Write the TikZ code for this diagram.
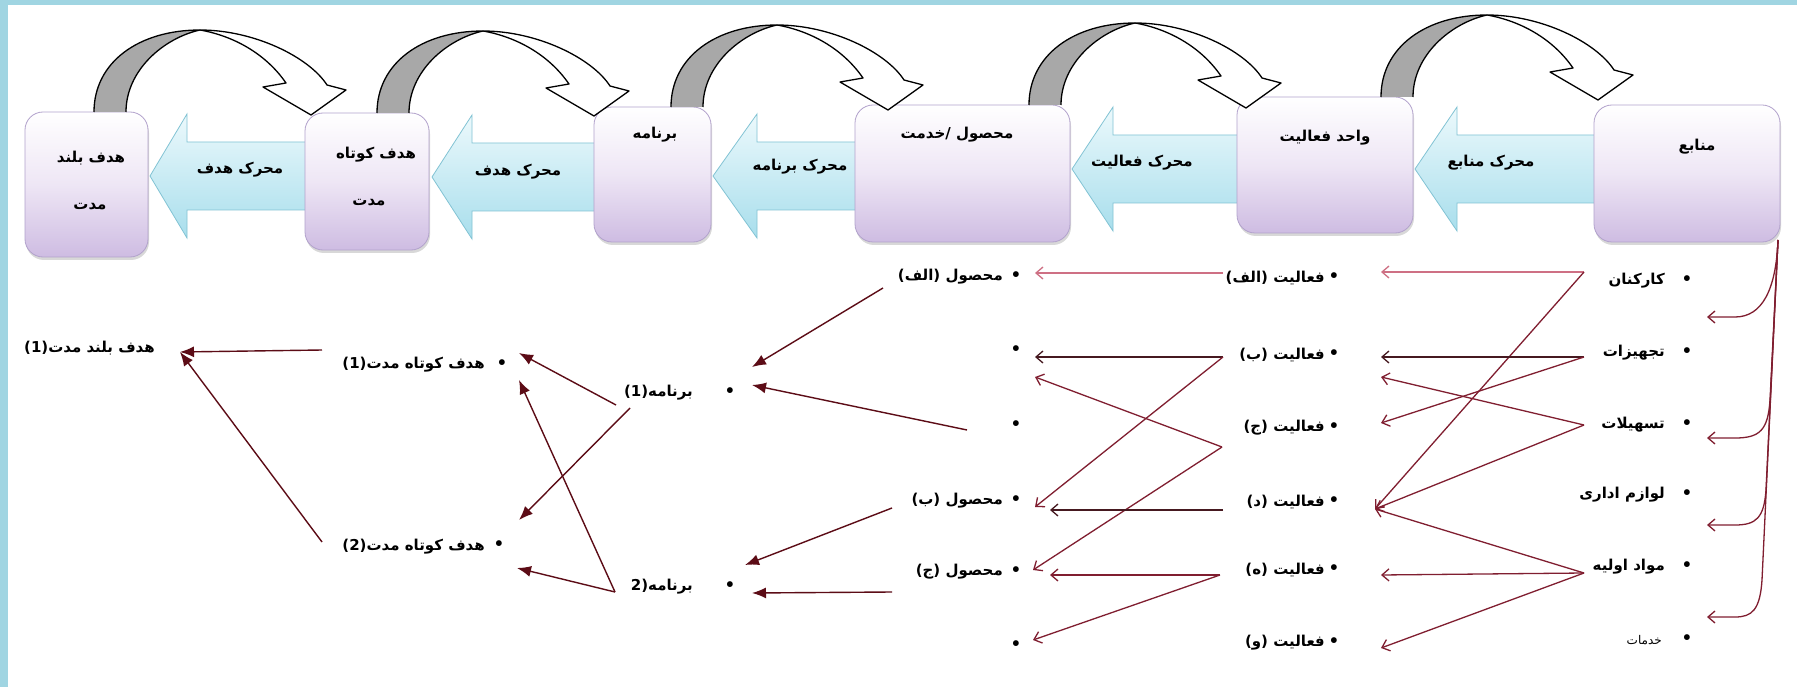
\documentclass[tikz,border=0pt]{standalone}
\usepackage{fontspec}
\newfontfamily\fa[Script=Arabic]{DejaVu Sans}
\newfontfamily\lat{DejaVu Sans}
\TeXXeTstate=1
\usetikzlibrary{arrows.meta,shadows}
\definecolor{framecol}{RGB}{160,213,226}
\definecolor{boxline}{RGB}{178,162,204}
\definecolor{boxlav}{RGB}{206,188,226}
\definecolor{boxmid}{RGB}{238,230,245}
\definecolor{engline}{RGB}{130,195,212}
\definecolor{engtop}{RGB}{236,249,252}
\definecolor{engbot}{RGB}{168,222,236}
\definecolor{bendgray}{RGB}{168,168,168}
\definecolor{linkred}{RGB}{128,30,48}
\definecolor{linkpink}{RGB}{206,112,132}
\definecolor{linkdark}{RGB}{70,25,32}
\definecolor{goaldark}{RGB}{92,12,22}
\tikzset{
  box/.style={rounded corners=18pt, draw=boxline, line width=.8pt,
    top color=white, bottom color=boxlav, middle color=boxmid,
    drop shadow={shadow xshift=1pt, shadow yshift=-3pt, opacity=.3}},
  boxlab/.style={font=\fa\bfseries\fontsize{15}{18}\selectfont, inner sep=0pt},
  engine/.style={draw=engline, line width=.8pt, top color=engtop, bottom color=engbot},
  englab/.style={font=\fa\bfseries\fontsize{15}{18}\selectfont, inner sep=0pt},
  bendline/.style={draw=black, line width=1.3pt, line join=round},
  item/.style={font=\fa\bfseries\fontsize{15}{18}\selectfont, inner sep=0pt, anchor=east},
  bul/.style={font=\fontsize{26}{28}\selectfont, inner sep=0pt},
  link/.style={draw=linkred, line width=1.3pt, -{Straight Barb[length=7pt,width=12pt]}},
  pinklink/.style={link, draw=linkpink},
  darklink/.style={link, draw=linkdark},
  goal/.style={draw=goaldark, line width=1.4pt, -{Latex[length=14pt,width=11pt]}},
}
\begin{document}
\begin{tikzpicture}[x=1pt,y=-1pt,>=latex]
\useasboundingbox (0,0) rectangle (1797,687);
\fill[white] (0,0) rectangle (1797,687);
\fill[framecol] (0,0) rectangle (8,687);
\fill[framecol] (0,0) rectangle (1797,5);

% engine arrows between the boxes
\draw[engine] (310,142) -- (187,142) -- (187,114) -- (150,176) -- (187,238) -- (187,210) -- (310,210) -- cycle;
\draw[engine] (600,143) -- (472,143) -- (472,115) -- (432,177) -- (472,239) -- (472,211) -- (600,211) -- cycle;
\draw[engine] (860,142) -- (757,142) -- (757,114) -- (713,176) -- (757,238) -- (757,210) -- (860,210) -- cycle;
\draw[engine] (1240,135) -- (1113,135) -- (1113,107) -- (1072,169) -- (1113,231) -- (1113,203) -- (1240,203) -- cycle;
\draw[engine] (1600,135) -- (1457,135) -- (1457,107) -- (1415,169) -- (1457,231) -- (1457,203) -- (1600,203) -- cycle;
\node[englab] (e1) at (240,170) {\beginR محرک هدف\endR};
\node[englab] (e2) at (518,172) {\beginR محرک هدف\endR};
\node[englab] (e3) at (800,167) {\beginR محرک برنامه\endR};
\node[englab] (e4) at (1142,163) {\beginR محرک فعالیت\endR};
\node[englab] (e5) at (1491,163) {\beginR محرک منابع\endR};

% boxes
\node[box, minimum width=123pt, minimum height=145pt] (b1) at (86.5,184.5) {};
\node[box, minimum width=124pt, minimum height=137pt] (b2) at (367,181.5) {};
\node[box, minimum width=117pt, minimum height=135pt] (b3) at (652.5,174.5) {};
\node[box, minimum width=215pt, minimum height=137pt] (b4) at (962.5,173.5) {};
\node[box, minimum width=176pt, minimum height=136pt] (b5) at (1325,165) {};
\node[box, minimum width=186pt, minimum height=137pt] (b6) at (1687,173.5) {};
\node[boxlab] (t1a) at (91,158) {\beginR هدف بلند\endR};
\node[boxlab] (t1b) at (90,207) {\beginR مدت\endR};
\node[boxlab] (t2a) at (376,155) {\beginR هدف کوتاه\endR};
\node[boxlab] (t2b) at (369,203) {\beginR مدت\endR};
\node[boxlab] (t3) at (655,135) {\beginR برنامه\endR};
\node[boxlab] (t4) at (957,135) {\beginR محصول /خدمت\endR};
\node[boxlab] (t5) at (1325,138) {\beginR واحد فعالیت\endR};
\node[boxlab] (t6) at (1697,147) {\beginR منابع\endR};

% bent arrows over the boxes
\foreach \fx/\fy in {94/112, 377/113, 671/107, 1029/105, 1381/97} {
  \begin{scope}[shift={(\fx,\fy)}]
    \filldraw[bendline, fill=bendgray] (0,0) .. controls (0,-50) and (45,-82) .. (106,-82)
      .. controls (70,-74) and (32,-42) .. (32,0);
    \filldraw[bendline, fill=white] (106,-82) .. controls (160,-82) and (215,-55) .. (233,-27)
      -- (252,-22) -- (217,3) -- (169,-25) -- (192,-29)
      .. controls (172,-58) and (140,-76) .. (106,-82) -- cycle;
  \end{scope}
}

% resources
\foreach \n/\y in {1/281,2/353,3/425,4/495,5/567,6/640}
  \node[bul] (rb\n) at (1687,\y) {\textbullet};
\node[item] (r1) at (1665,281) {\beginR کارکنان\endR};
\node[item] (r2) at (1665,353) {\beginR تجهیزات\endR};
\node[item] (r3) at (1665,425) {\beginR تسهیلات\endR};
\node[item] (r4) at (1665,495) {\beginR لوازم اداری\endR};
\node[item] (r5) at (1665,567) {\beginR مواد اولیه\endR};
\node[item, font=\fa\fontsize{12}{14}\selectfont] (r6) at (1662,640) {\beginR خدمات\endR};

% activities
\foreach \n/\y in {1/278,2/355,3/428,4/502,5/570,6/643}
  \node[bul] (ab\n) at (1334,\y) {\textbullet};
\node[item] (a1) at (1325,278) {\beginR فعالیت (الف)\endR};
\node[item] (a2) at (1325,355) {\beginR فعالیت (ب)\endR};
\node[item] (a3) at (1325,428) {\beginR فعالیت (ج)\endR};
\node[item] (a4) at (1325,502) {\beginR فعالیت (د)\endR};
\node[item] (a5) at (1325,570) {\beginR فعالیت (ه)\endR};
\node[item] (a6) at (1325,643) {\beginR فعالیت (و)\endR};

% products
\foreach \n/\y in {1/277,2/351,3/426,4/501,5/572,6/646}
  \node[bul] (pb\n) at (1016,\y) {\textbullet};
\node[item] (p1) at (1003,277) {\beginR محصول (الف)\endR};
\node[item] (p4) at (1003,501) {\beginR محصول (ب)\endR};
\node[item] (p5) at (1003,572) {\beginR محصول (ج)\endR};

% programmes
\node[bul] (gb1) at (730,393) {\textbullet};
\node[bul] (gb2) at (730,587) {\textbullet};
\node[item] (g1) at (693,393) {{\lat\bfseries(1)}\beginR برنامه\endR};
\node[item] (g2) at (693,587) {{\lat\bfseries 2)}\beginR برنامه\endR};

% short and long term goals
\node[bul] (sb1) at (502,365) {\textbullet};
\node[bul] (sb2) at (499,546) {\textbullet};
\node[item] (s1) at (485,365) {{\lat\bfseries(1)}\beginR هدف کوتاه مدت\endR};
\node[item] (s2) at (485,547) {{\lat\bfseries(2)}\beginR هدف کوتاه مدت\endR};
\node[item] (l1) at (155,348) {{\lat\bfseries(1)}\beginR هدف بلند مدت\endR};

% connector ends
\coordinate (src) at (1778,240);
\coordinate (h1) at (1707,317);
\coordinate (h2) at (1707,438);
\coordinate (h3) at (1707,525);
\coordinate (h4) at (1707,617);
\coordinate (r1o) at (1584,272);
\coordinate (r2o) at (1584,357);
\coordinate (r3o) at (1584,425);
\coordinate (r5o) at (1584,573);
\coordinate (a1i) at (1381,272);
\coordinate (a2i) at (1381,357);
\coordinate (a2j) at (1381,377);
\coordinate (a3i) at (1381,423);
\coordinate (a4i) at (1375,509);
\coordinate (a5i) at (1381,575);
\coordinate (a6i) at (1381,648);
\coordinate (a1o) at (1223,273);
\coordinate (a2o) at (1223,357);
\coordinate (a3o) at (1222,447);
\coordinate (a4o) at (1223,510);
\coordinate (a5o) at (1220,575);
\coordinate (p1i) at (1035,273);
\coordinate (p2i) at (1035,357);
\coordinate (p2j) at (1035,377);
\coordinate (p4i) at (1035,507);
\coordinate (p4j) at (1050,510);
\coordinate (p5i) at (1033,570);
\coordinate (p5j) at (1050,575);
\coordinate (p6i) at (1033,640);
\coordinate (p1o) at (883,288);
\coordinate (p3o) at (967,430);
\coordinate (p4o) at (892,508);
\coordinate (p5o) at (892,592);
\coordinate (g1i) at (752,367);
\coordinate (g1j) at (752,385);
\coordinate (g2i) at (745,565);
\coordinate (g2j) at (752,593);
\coordinate (g1o) at (616,405);
\coordinate (g1p) at (630,408);
\coordinate (g2o) at (615,592);
\coordinate (s1i) at (519,353);
\coordinate (s1j) at (519,380);
\coordinate (s2i) at (519,520);
\coordinate (s2j) at (517,568);
\coordinate (s1o) at (322,350);
\coordinate (s2o) at (322,542);
\coordinate (l1i) at (180,352);

% resources bracket
\draw[link] (src) .. controls (1776,290) and (1762,317) .. (1735,317) -- (h1);
\draw[link] (src) -- (1770,400) .. controls (1768,430) and (1760,438) .. (1735,438) -- (h2);
\draw[link] (src) -- (1766,490) .. controls (1764,518) and (1756,525) .. (1735,525) -- (h3);
\draw[link] (src) -- (1762,580) .. controls (1760,610) and (1752,617) .. (1735,617) -- (h4);

% resources to activities
\draw[pinklink] (r1o) -- (a1i);
\draw[link] (r1o) -- (a4i);
\draw[darklink] (r2o) -- (a2i);
\draw[link] (r2o) -- (a3i);
\draw[link] (r3o) -- (a2j);
\draw[link] (r3o) -- (a4i);
\draw[link] (r5o) -- (a4i);
\draw[link] (r5o) -- (a5i);
\draw[link] (r5o) -- (a6i);

% activities to products
\draw[pinklink] (a1o) -- (p1i);
\draw[darklink] (a2o) -- (p2i);
\draw[link] (a2o) -- (p4i);
\draw[link] (a3o) -- (p2j);
\draw[link] (a3o) -- (p5i);
\draw[darklink] (a4o) -- (p4j);
\draw[link] (a5o) -- (p5j);
\draw[link] (a5o) -- (p6i);

% products to programmes to goals
\draw[goal] (p1o) -- (g1i);
\draw[goal] (p3o) -- (g1j);
\draw[goal] (p4o) -- (g2i);
\draw[goal] (p5o) -- (g2j);
\draw[goal] (g1o) -- (s1i);
\draw[goal] (g1p) -- (s2i);
\draw[goal] (g2o) -- (s2j);
\draw[goal] (g2o) -- (s1j);
\draw[goal] (s1o) -- (l1i);
\draw[goal] (s2o) -- (l1i);
\end{tikzpicture}
\end{document}
